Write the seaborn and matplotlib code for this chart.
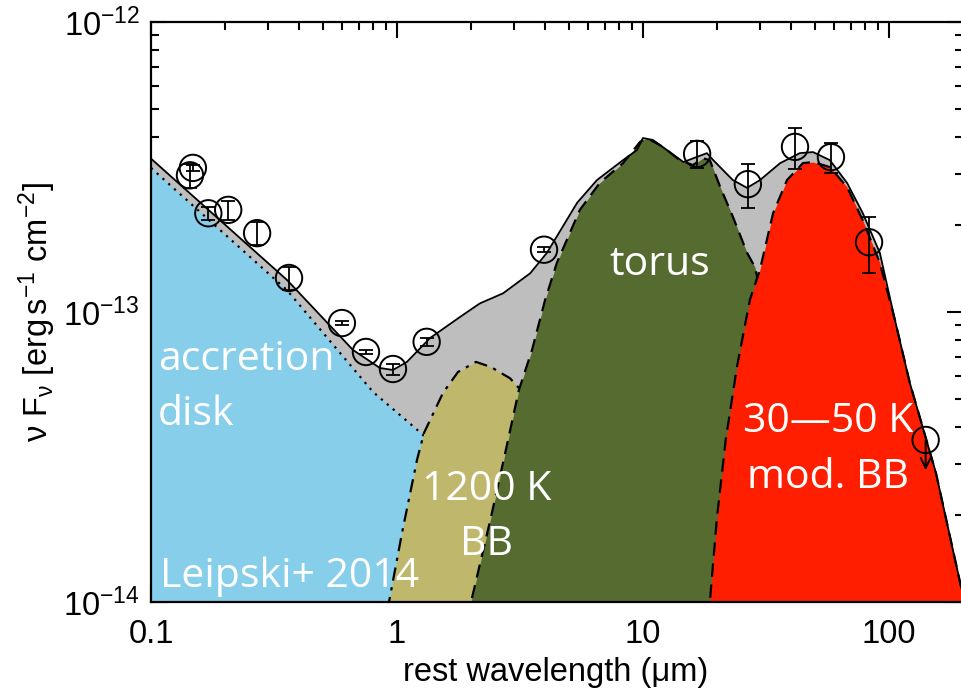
import numpy as np
import pandas as pd
import matplotlib
matplotlib.use("Agg")
import matplotlib.pyplot as plt
from matplotlib.ticker import LogLocator, NullFormatter, FixedLocator, FixedFormatter, LogFormatterMathtext
import seaborn as sns

# ---------------- data ----------------
# photometry (rest wavelength in micron, nu F_nu in erg/s/cm2)
obs_wave = [0.144, 0.148, 0.171, 0.206, 0.270, 0.364, 0.597, 0.748, 0.963, 1.32,
            3.96, 16.6, 26.7, 41.5, 58.1, 83.0]
obs_flux = [2.96e-13, 3.14e-13, 2.19e-13, 2.25e-13, 1.87e-13, 1.31e-13, 9.16e-14,
            7.28e-14, 6.36e-14, 7.89e-14, 1.64e-13, 3.51e-13, 2.76e-13, 3.71e-13,
            3.42e-13, 1.74e-13]
obs_err = [0.28e-13, 0.08e-13, 0.12e-13, 0.17e-13, 0.17e-13, 0.12e-13, 0.15e-14,
           0.12e-14, 0.28e-14, 0.25e-14, 0.033e-13, 0.37e-13, 0.47e-13, 0.60e-13,
           0.40e-13, 0.38e-13]
ulim_wave = [141.0]
ulim_flux = [3.62e-14]
ulim_tip = [2.85e-14]

# accretion disk (Leipski+ 2014)
disk_wave = [0.1, 0.357, 0.799, 1.25, 1.80]
disk_flux = [3.14e-13, 1.19e-13, 5.30e-14, 3.83e-14, 2.85e-14]

# 1200 K black body
bb1200_wave = [0.886, 0.928, 1.048, 1.206, 1.288, 1.538, 1.770, 2.094, 2.41, 2.88, 3.13, 4.60, 6.68]
bb1200_flux = [7.4e-15, 1.0e-14, 1.73e-14, 3.09e-14, 3.83e-14, 5.26e-14, 6.21e-14, 6.73e-14,
               6.46e-14, 5.91e-14, 5.47e-14, 1.73e-14, 6.8e-15]

# torus
torus_wave = [1.91, 2.0, 2.41, 2.77, 3.13, 3.54, 4.00, 4.47, 5.54, 6.68, 8.30, 9.73, 10.4,
              12.05, 14.1, 15.96, 17.5, 18.7, 20.6, 23.2, 26.5, 28.5, 32.8, 43.4, 57.5, 69.3]
torus_flux = [7.4e-15, 1.0e-14, 1.96e-14, 3.34e-14, 5.38e-14, 7.40e-14, 1.10e-13, 1.48e-13,
              2.25e-13, 2.79e-13, 3.26e-13, 3.86e-13, 3.98e-13, 3.71e-13, 3.34e-13, 3.21e-13,
              3.39e-13, 3.34e-13, 2.70e-13, 2.13e-13, 1.60e-13, 1.43e-13, 8.7e-14, 4.25e-14,
              1.92e-14, 8.7e-15]

# 30-50 K modified black body
cold_wave = [18.4, 18.7, 20.0, 21.7, 24.1, 27.2, 29.9, 33.8, 38.5, 44.7, 49.1, 57.5, 67.5,
             78.3, 91.8, 105.7, 121.6, 155.2, 196.3, 213.0]
cold_flux = [7.4e-15, 1.0e-14, 1.96e-14, 3.62e-14, 6.46e-14, 1.10e-13, 1.40e-13, 2.19e-13,
             2.85e-13, 3.26e-13, 3.29e-13, 3.16e-13, 2.70e-13, 2.07e-13, 1.48e-13, 9.4e-14,
             5.69e-14, 2.79e-14, 1.13e-14, 8.7e-15]

# total model
total_wave = [0.1, 0.357, 0.662, 0.853, 0.963, 1.098, 1.362, 1.80, 2.17, 2.70, 3.48, 4.07,
              5.40, 6.50, 8.30, 9.46, 10.0, 10.98, 12.5, 14.6, 18.2, 19.3, 23.2, 26.5, 29.9,
              36.1, 43.4, 49.1, 57.5, 67.5, 78.3, 91.8, 105.7, 121.6, 155.2, 196.3, 213.0]
total_flux = [3.38e-13, 1.29e-13, 7.40e-14, 6.41e-14, 6.31e-14, 6.73e-14, 8.13e-14, 9.6e-14,
              1.07e-13, 1.16e-13, 1.36e-13, 1.60e-13, 2.38e-13, 2.85e-13, 3.34e-13, 3.62e-13,
              3.98e-13, 3.92e-13, 3.62e-13, 3.29e-13, 3.53e-13, 3.34e-13, 2.85e-13, 2.68e-13,
              2.85e-13, 3.26e-13, 3.53e-13, 3.56e-13, 3.34e-13, 2.79e-13, 2.19e-13, 1.60e-13,
              9.4e-14, 5.69e-14, 2.79e-14, 1.13e-14, 8.7e-15]

xlim = (0.1, 200.0)
ylim = (1e-14, 1e-12)
x_ticks = [0.1, 1, 10, 100]
x_ticklabels = ["0.1", "1", "10", "100"]
y_ticks = [1e-14, 1e-13, 1e-12]

# ---------------- style ----------------
sns.set_theme(style="ticks")
plt.rcParams["font.family"] = ["Liberation Sans", "DejaVu Sans"]
plt.rcParams["mathtext.fontset"] = "custom"
plt.rcParams["mathtext.rm"] = "Liberation Sans"
plt.rcParams["mathtext.it"] = "Liberation Sans"
plt.rcParams["mathtext.default"] = "regular"

fig = plt.figure(figsize=(9.61, 6.90), dpi=100)
ax = fig.add_axes([151 / 961, 88 / 690, 812 / 961, 580 / 690])
ax.set_xscale("log")
ax.set_yscale("log")
ax.set_xlim(*xlim)
ax.set_ylim(*ylim)

base = ylim[0] * 0.5
c_grey = "#bebebe"
c_blue = "#87ceeb"
c_tan = "#bfb86c"
c_green = "#566b30"
c_red = "#ff1f00"

ax.fill_between(total_wave, base, total_flux, color=c_grey, lw=0, zorder=1)
ax.fill_between(disk_wave, base, disk_flux, color=c_blue, lw=0, zorder=2)
sns.lineplot(x=disk_wave, y=disk_flux, ax=ax, color="black", lw=1.6,
             linestyle=(0, (1, 2.5)), estimator=None, sort=False, zorder=2.5)
ax.fill_between(bb1200_wave, base, bb1200_flux, color=c_tan, lw=0, zorder=3)
sns.lineplot(x=bb1200_wave, y=bb1200_flux, ax=ax, color="black", lw=1.6,
             linestyle=(0, (6, 3, 1.5, 3)), estimator=None, sort=False, zorder=3.5)
ax.fill_between(torus_wave, base, torus_flux, color=c_green, lw=0, zorder=4)
sns.lineplot(x=torus_wave, y=torus_flux, ax=ax, color="black", lw=1.6,
             linestyle=(0, (6, 3.5)), estimator=None, sort=False, zorder=4.5)
ax.fill_between(cold_wave, base, cold_flux, color=c_red, lw=0, zorder=5)
sns.lineplot(x=cold_wave, y=cold_flux, ax=ax, color="black", lw=1.6,
             linestyle=(0, (6, 3.5)), estimator=None, sort=False, zorder=5.5)
sns.lineplot(x=total_wave, y=total_flux, ax=ax, color="black", lw=1.3,
             estimator=None, sort=False, zorder=6)

# photometry
ax.errorbar(obs_wave, obs_flux, yerr=obs_err, fmt="none", ecolor="black",
            elinewidth=1.3, capsize=5, capthick=1.3, zorder=7)
sns.scatterplot(x=obs_wave + ulim_wave, y=obs_flux + ulim_flux, ax=ax, s=19 ** 2,
                facecolor="none", edgecolor="black", linewidth=1.4, zorder=8)
for w, f, t in zip(ulim_wave, ulim_flux, ulim_tip):
    ax.annotate("", xy=(w, t), xytext=(w, f), zorder=8,
                arrowprops=dict(arrowstyle="->", color="black", lw=1.4,
                                shrinkA=0, shrinkB=0, mutation_scale=18))

# axes styling
for s in ax.spines.values():
    s.set_linewidth(1.6)
    s.set_color("black")
    s.set_zorder(10)
ax.xaxis.set_major_locator(FixedLocator(x_ticks))
ax.xaxis.set_major_formatter(FixedFormatter(x_ticklabels))
ax.xaxis.set_minor_locator(LogLocator(base=10, subs=np.arange(2, 10)))
ax.xaxis.set_minor_formatter(NullFormatter())
ax.yaxis.set_major_locator(FixedLocator(y_ticks))
ax.yaxis.set_major_formatter(LogFormatterMathtext())
ax.yaxis.set_minor_locator(LogLocator(base=10, subs=np.arange(2, 10)))
ax.yaxis.set_minor_formatter(NullFormatter())
ax.tick_params(which="both", direction="in", top=True, right=True, color="black",
               width=1.5, labelsize=23.5, labelcolor="black", zorder=10)
ax.tick_params(which="major", length=11.5)
ax.tick_params(which="minor", length=5.8)
ax.tick_params(axis="x", which="major", pad=12)
ax.tick_params(axis="y", which="major", pad=8)
ax.set_xlabel("")
ax.set_ylabel("")

fig.text(556 / 961, 1 - 672 / 690, "rest wavelength (\u03bcm)", ha="center", va="center",
         fontsize=23.5, color="black")
fig.text(37 / 961, 1 - 312 / 690, r"$\nu\ F_{\nu}$ [erg$\,$s$^{-1}$ cm$^{-2}$]",
         rotation=90, ha="center", va="center", fontsize=23.5, color="black")

# component labels
def ftxt(x, y, s, ha):
    fig.text(x / 961, 1 - y / 690, s, ha=ha, va="baseline", color="white", fontsize=29.5,
             family=["Open Sans", "DejaVu Sans"], zorder=9)

ftxt(158, 370, "accretion", "left")
ftxt(158, 425, "disk", "left")
ftxt(160, 587, "Leipski+ 2014", "left")
ftxt(660, 275, "torus", "center")
ftxt(487, 500, "1200 K", "center")
ftxt(486, 555, "BB", "center")
ftxt(828, 432, "30\u201450 K", "center")
ftxt(828, 488, "mod. BB", "center")

fig.savefig("out.png", dpi=100)
